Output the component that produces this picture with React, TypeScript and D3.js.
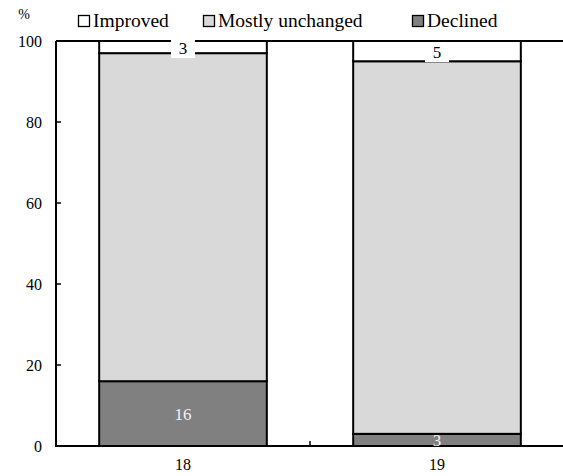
import React from "react";
import * as d3 from "d3";

const categories = ["18", "19"];
const seriesNames = ["Declined", "Mostly unchanged", "Improved"];
const declined = [16, 3];
const unchanged = [81, 92];
const improved = [3, 5];
const yTicks = [0, 20, 40, 60, 80, 100];
const legendOrder = ["Improved", "Mostly unchanged", "Declined"];
const colors: Record<string, string> = {
  Declined: "#808080",
  "Mostly unchanged": "#d9d9d9",
  Improved: "#ffffff",
};

const W = 563;
const H = 476;
const M = { left: 56, right: 0, top: 41, bottom: 30 };
const FONT = "'Liberation Serif', 'DejaVu Serif', serif";

export default function App() {
  const x = d3
    .scaleBand<string>()
    .domain(categories)
    .range([M.left, W + 1])
    .paddingInner(0.34)
    .paddingOuter(0.17);
  const y = d3.scaleLinear().domain([0, 100]).range([446, M.top]);

  const rows = categories.map((c, i) => ({
    cat: c,
    Declined: declined[i],
    "Mostly unchanged": unchanged[i],
    Improved: improved[i],
  }));
  const stack = d3.stack<any>().keys(seriesNames)(rows);

  const legendX = [78, 203, 412];
  const ts = { fontFamily: FONT };

  return (
    <svg
      width={W}
      height={H}
      style={{ position: "absolute", left: 0, top: 0 }}
    >
      <rect width={W} height={H} fill="#fff" />
      <g>
        {/* legend */}
        {legendOrder.map((name, i) => (
          <g key={name} transform={`translate(${legendX[i]},0)`}>
            <rect
              x={0.5}
              y={15.5}
              width={11}
              height={11}
              fill={colors[name]}
              stroke="#000"
              strokeWidth={1.3}
            />
            <text x={15} y={27} fontSize={19.5} fill="#000" style={ts}>
              {name}
            </text>
          </g>
        ))}
        <text x={24} y={19} fontSize={14} textAnchor="middle" style={ts}>
          %
        </text>
        {/* bars */}
        {stack.map((s) =>
          s.map((d, i) => (
            <rect
              key={s.key + i}
              x={x(categories[i])!}
              width={x.bandwidth()}
              y={y(d[1])}
              height={y(d[0]) - y(d[1])}
              fill={colors[s.key]}
              stroke="#000"
              strokeWidth={2}
            />
          ))
        )}
        {/* top line at 100 */}
        <line x1={M.left} x2={W} y1={y(100)} y2={y(100)} stroke="#000" strokeWidth={2} />
        {/* y axis */}
        <line x1={M.left} x2={M.left} y1={y(100)} y2={y(0)} stroke="#000" strokeWidth={2} />
        {yTicks.map((t) => (
          <g key={t}>
            <line x1={M.left} x2={M.left + 5} y1={y(t)} y2={y(t)} stroke="#000" strokeWidth={1.5} />
            <text x={42} y={y(t) + 5.5} fontSize={16} textAnchor="end" style={ts}>
              {t}
            </text>
          </g>
        ))}
        {/* x axis */}
        <line x1={M.left - 1} x2={W} y1={y(0)} y2={y(0)} stroke="#000" strokeWidth={2} />
        {categories.slice(1).map((c) => (
          <line
            key={c}
            x1={x(c)! - (x.step() - x.bandwidth()) / 2}
            x2={x(c)! - (x.step() - x.bandwidth()) / 2}
            y1={y(0)}
            y2={y(0) - 5}
            stroke="#000"
            strokeWidth={1.5}
          />
        ))}
        {categories.map((c) => (
          <text key={c} x={x(c)! + x.bandwidth() / 2} y={470} fontSize={16} textAnchor="middle" style={ts}>
            {c}
          </text>
        ))}
        {/* declined labels */}
        {categories.map((c, i) => (
          <text
            key={"dl" + c}
            x={x(c)! + x.bandwidth() / 2}
            y={y(declined[i] / 2) + 6}
            fontSize={17}
            textAnchor="middle"
            fill="#f2f2f2"
            style={ts}
          >
            {declined[i]}
          </text>
        ))}
        {/* improved labels */}
        {categories.map((c, i) => {
          const cy = y(100 - improved[i] / 2) + 1;
          const cx = x(c)! + x.bandwidth() / 2;
          return (
            <g key={"il" + c}>
              <rect x={cx - 12} y={cy - 10} width={24} height={20} fill="#fff" />
              <text x={cx} y={cy + 6} fontSize={17} textAnchor="middle" fill="#000" style={ts}>
                {improved[i]}
              </text>
            </g>
          );
        })}
      </g>
    </svg>
  );
}
